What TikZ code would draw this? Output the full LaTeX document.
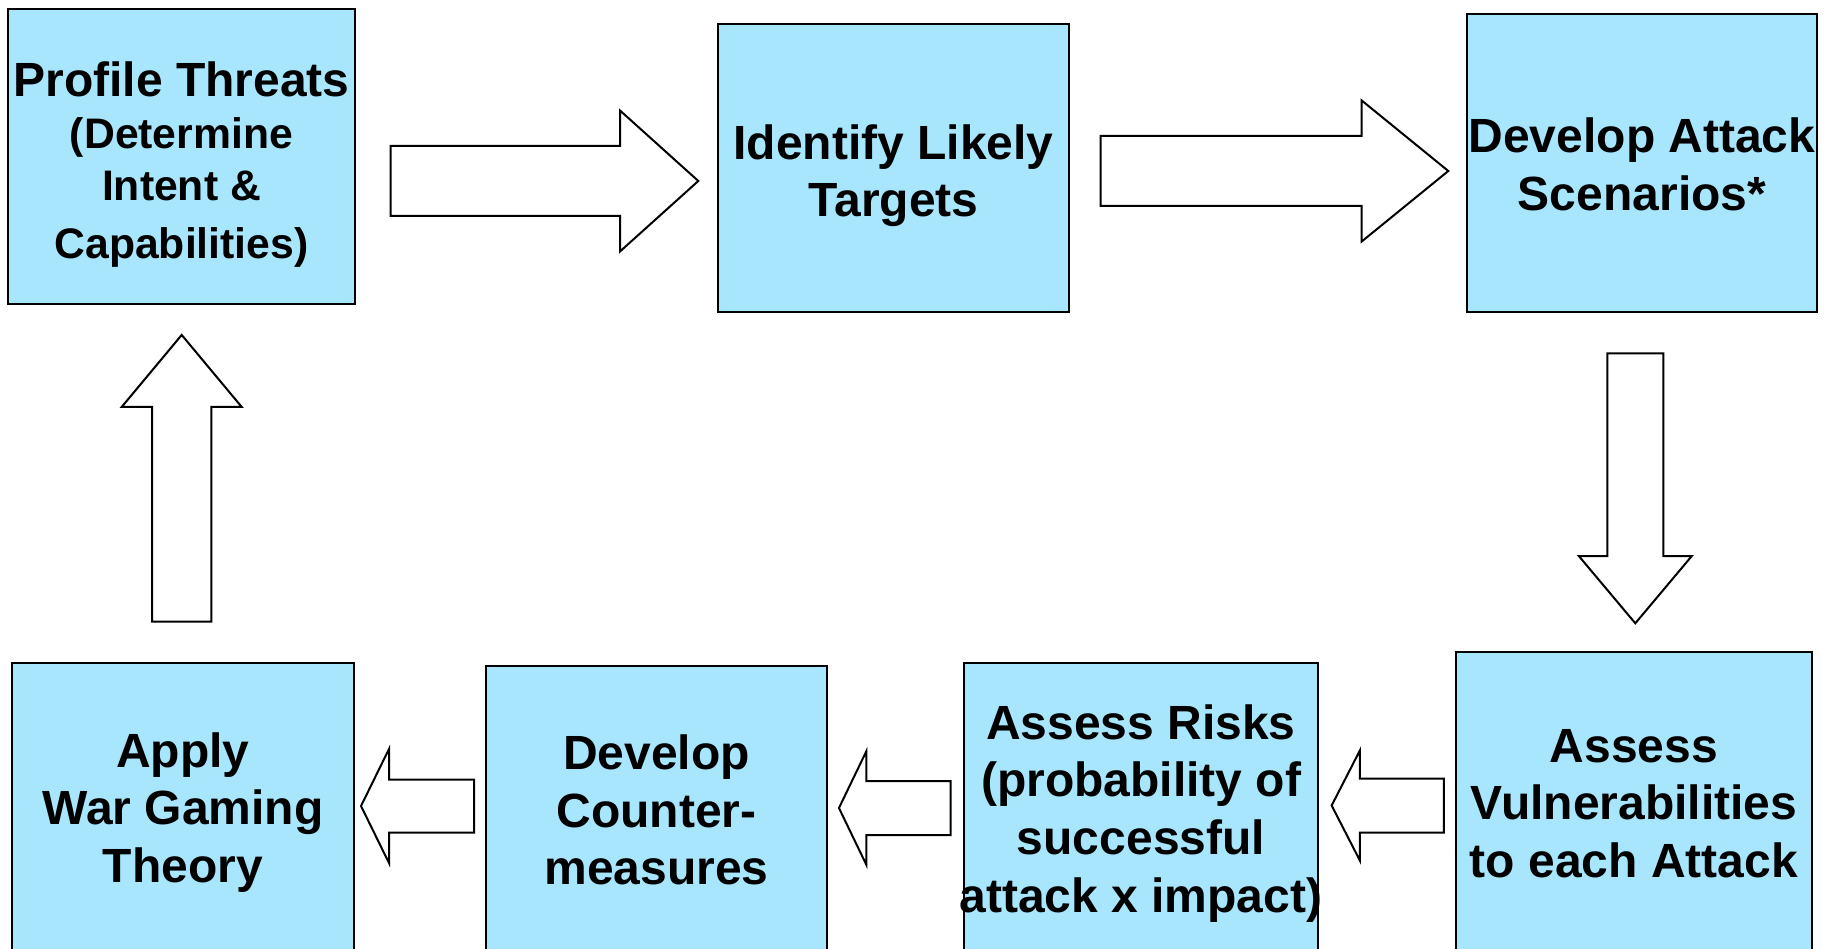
\documentclass[tikz,border=0pt]{standalone}
\usepackage{fontspec}
\setmainfont{Liberation Sans}
\definecolor{stageblue}{RGB}{168,230,254}
\newcommand{\pptstrut}[1][0pt]{\rule[-0.212em]{0pt}{\dimexpr1.117em+#1\relax}}
\newcommand{\flowarrow}[7]{%
  \begin{scope}[shift={(#2,#3)}, rotate=#1]
    \draw[flow] (-#4/2,-#5) -- ({#4/2-#7},-#5) -- ({#4/2-#7},-#6) -- (#4/2,0)
      -- ({#4/2-#7},#6) -- ({#4/2-#7},#5) -- (-#4/2,#5) -- cycle;
  \end{scope}}

\begin{document}
\begin{tikzpicture}[x=1pt, y=-1pt,
  stage/.style={rectangle, draw=black, line width=2pt, fill=stageblue, inner sep=0pt, align=flush center, font=\bfseries\fontsize{48}{57.6}\selectfont},
  flow/.style={draw=black, line width=2pt, fill=white, line join=miter}]
\useasboundingbox (0,0) rectangle (1826,949);
\clip (0,0) rectangle (1826,949);

\node[stage, text width=347pt, minimum height=295pt] (profile) at (181.5,156.5) {\pptstrut[8pt]Profile Threats\\ \fontsize{42.7}{52}\selectfont (Determine\\ Intent \&\\ Capabilities)\pptstrut};
\node[stage, text width=351pt, minimum height=288pt] (targets) at (893.5,168) {\pptstrut[7pt]Identify Likely\\ Targets\pptstrut};
\node[stage, text width=350pt, minimum height=298pt] (scenarios) at (1642,163) {\pptstrut[4pt]Develop Attack\\ Scenarios*\pptstrut};
\node[stage, text width=356pt, minimum height=302pt] (vulns) at (1634,803) {\pptstrut Assess\\ Vulnerabilities\\ to each Attack\pptstrut};
\node[stage, text width=354pt, minimum height=292pt] (risks) at (1141,809) {\pptstrut Assess Risks\\ (probability of\\ successful\\ \makebox[\linewidth]{attack x impact)}\pptstrut};
\node[stage, text width=341pt, minimum height=289pt] (counter) at (656.5,810.5) {\pptstrut Develop\\ Counter-\\ measures\pptstrut};
\node[stage, text width=342pt, minimum height=290pt] (wargame) at (183,808) {\pptstrut Apply\\ War Gaming\\ Theory\pptstrut};

\flowarrow{0}{544.5}{181}{307.6}{35}{70.5}{78.3}
\flowarrow{0}{1274.5}{171}{347.6}{35}{70.5}{86.6}
\flowarrow{-90}{1635.3}{488.3}{270}{28}{56.5}{67.3}
\flowarrow{180}{1387.8}{805.5}{112.3}{27}{55.2}{28.3}
\flowarrow{180}{894.8}{808}{111.7}{27}{57}{27.5}
\flowarrow{180}{417.5}{806}{113}{26.5}{57}{28}
\flowarrow{90}{181.7}{478.3}{286.7}{29.7}{60}{72}
\end{tikzpicture}
\end{document}
